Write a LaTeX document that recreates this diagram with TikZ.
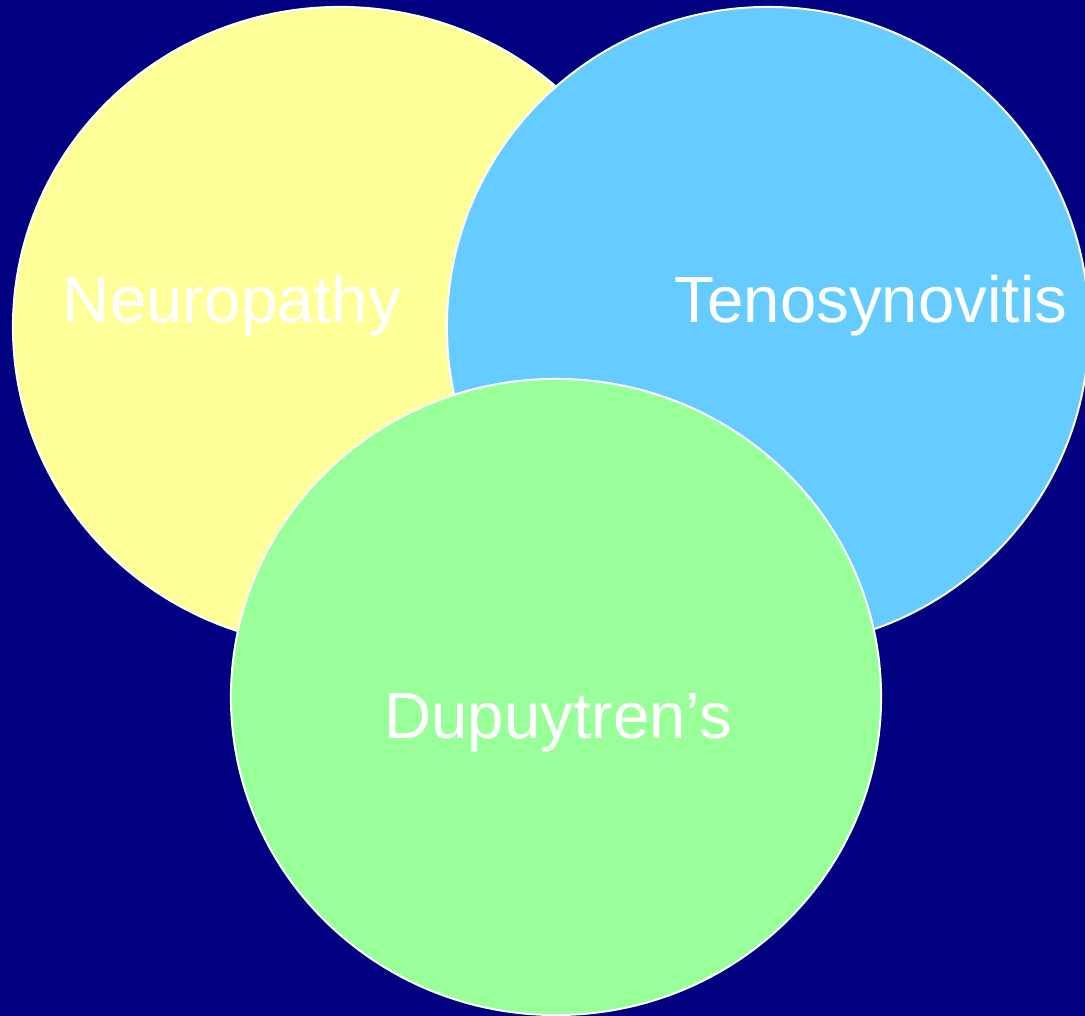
\documentclass[tikz,border=0pt]{standalone}
\usepackage{fontspec}
\setmainfont{Liberation Sans}
\usetikzlibrary{shapes.geometric}
\definecolor{navy}{HTML}{000080}
\definecolor{paleyellow}{HTML}{FFFF99}
\definecolor{skyblue}{HTML}{66CCFF}
\definecolor{palegreen}{HTML}{99FF99}
\begin{document}
\begin{tikzpicture}[
    x=0.025cm, y=-0.025cm,
    set/.style={ellipse, draw=white, line width=1.4pt, inner sep=0pt},
    label/.style={anchor=base, text=white, inner sep=0pt, font=\fontsize{46.5}{56}\selectfont}
]
\fill[navy] (0,0) rectangle (1085,1016);
\useasboundingbox (0,0) rectangle (1085,1016);
\node[set, fill=paleyellow, minimum width=16.35cm, minimum height=16cm] (neuro) at (340,327) {};
\node[set, fill=skyblue, minimum width=16.05cm, minimum height=16cm] (teno) at (768,327) {};
\node[set, fill=palegreen, minimum width=16.25cm, minimum height=15.9cm] (dupu) at (556,697) {};
\node[label] (neurotext) at (232,323) {Neuropathy};
\node[label] (tenotext) at (871,323) {Tenosynovitis};
\node[label] (duputext) at (558,738) {Dupuytren’s};
\end{tikzpicture}
\end{document}
